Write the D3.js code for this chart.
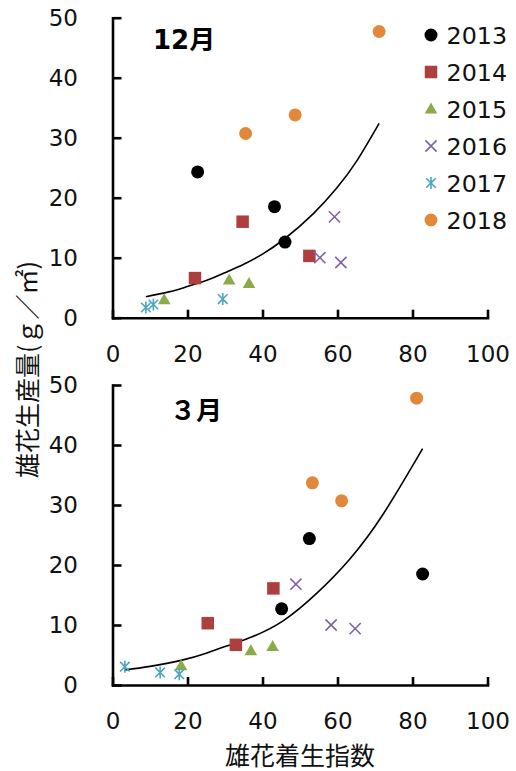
<!DOCTYPE html>
<html>
<head>
<meta charset="utf-8">
<script src="https://cdn.jsdelivr.net/npm/d3@7"></script>
<style>
  html, body { margin: 0; padding: 0; background: #fff; }
  svg { display: block; }
</style>
</head>
<body>
<svg id="chart" width="516" height="771"></svg>
<script>
// ---- data ----
const years = ["2013", "2014", "2015", "2016", "2017", "2018"];
const colors = ["#000000", "#AD403E", "#8DAA4B", "#7F63A1", "#4AA5C2", "#E2883B"];
const shapes = ["circle", "square", "triangle", "times", "asterisk", "circle"];

// 12月 panel: 雄花着生指数 (x) and 雄花生産量 (y)
const decIndex = [[22.7, 43.2, 46.0], [22.0, 34.7, 52.5], [13.8, 31.1, 36.4], [59.2, 55.3, 60.9], [8.9, 10.9, 29.4], [35.5, 48.7, 71.1]];
const decProd  = [[24.3, 18.5, 12.6], [6.6, 16.0, 10.3], [3.0, 6.3, 5.7], [16.8, 10.0, 9.2], [1.7, 2.2, 3.1], [30.7, 33.8, 47.7]];
// 3月 panel
const marIndex = [[52.5, 45.1, 82.7], [25.4, 32.9, 42.9], [18.3, 36.9, 42.7], [48.9, 58.3, 64.7], [3.3, 12.7, 17.8], [53.3, 61.1, 81.1]];
const marProd  = [[24.4, 12.7, 18.5], [10.3, 6.7, 16.1], [3.2, 5.7, 6.4], [16.8, 10.0, 9.4], [3.05, 2.1, 1.8], [33.7, 30.7, 47.8]];

// trend curves
const decTrendX = [8.9, 15, 20, 25, 30, 35, 40, 46, 53.5, 59.8, 65.1, 71.1];
const decTrendY = [3.5, 4.3, 5.2, 6.2, 7.5, 8.9, 10.6, 13.2, 17.3, 21.6, 26.1, 32.4];
const marTrendX = [3.3, 10, 18.3, 25, 30, 36.7, 45.5, 54.5, 63.3, 72.2, 82.7];
const marTrendY = [2.5, 3.1, 4.1, 5.3, 6.4, 7.9, 10.7, 15.3, 21.0, 28.5, 39.4];

const xTicks = [0, 20, 40, 60, 80, 100];
const yTicks = [0, 10, 20, 30, 40, 50];
const panelTitles = ["12月", "３月"];
const xTitle = "雄花着生指数";
const yTitle = "雄花生産量(ｇ／㎡)";

// ---- drawing ----
const svg = d3.select("#chart");
const numFont = "'DejaVu Sans', Verdana, sans-serif";
const cjkFont = "'Noto Sans CJK JP', 'DejaVu Sans', sans-serif";

const x = d3.scaleLinear().domain([0, 100]).range([112.5, 487.5]);
const panels = [
  { y: d3.scaleLinear().domain([0, 50]).range([317.7, 17.7]), xs: decIndex, ys: decProd, tx: decTrendX, ty: decTrendY, title: panelTitles[0], titleX: 153, titleY: 49 },
  { y: d3.scaleLinear().domain([0, 50]).range([685, 385]), xs: marIndex, ys: marProd, tx: marTrendX, ty: marTrendY, title: panelTitles[1], titleX: 170, titleY: 420 }
];

function markerPath(shape) {
  if (shape === "circle") return d3.symbol().type(d3.symbolCircle).size(Math.PI * 6.5 * 6.5)();
  if (shape === "square") return d3.symbol().type(d3.symbolSquare).size(12.5 * 12.5)();
  if (shape === "triangle") return "M0,-6.5L6.3,4.5L-6.3,4.5Z";
  if (shape === "times") return "M-5.6,-5.6L5.6,5.6M-5.6,5.6L5.6,-5.6";
  if (shape === "asterisk") return "M-4.8,-4.8L4.8,4.8M-4.8,4.8L4.8,-4.8M0,-6L0,6";
}
function drawMarker(g, shape, color) {
  const stroked = shape === "times" || shape === "asterisk";
  g.append("path")
    .attr("d", markerPath(shape))
    .attr("fill", stroked ? "none" : color)
    .attr("stroke", stroked ? color : "none")
    .attr("stroke-width", stroked ? 1.6 : 0);
}

panels.forEach(p => {
  const g = svg.append("g");
  // axes
  const xAxis = d3.axisBottom(x).tickValues(xTicks).tickSizeInner(-8).tickSizeOuter(0).tickPadding(28);
  const yAxis = d3.axisLeft(p.y).tickValues(yTicks).tickSizeInner(-9).tickSizeOuter(0).tickPadding(34.5);
  const gx = g.append("g").attr("transform", `translate(0,${p.y(0)})`).call(xAxis);
  const gy = g.append("g").attr("transform", `translate(${x(0)},0)`).call(yAxis);
  [gx, gy].forEach(a => {
    a.select(".domain").attr("stroke", "#000").attr("stroke-width", 2.6).attr("stroke-linecap", "square");
    a.selectAll(".tick line").attr("stroke", "#000").attr("stroke-width", 2.6);
    a.selectAll(".tick text").attr("font-family", numFont).attr("font-size", 23).attr("fill", "#111");
  });

  // trend curve
  const line = d3.line().x(d => x(d[0])).y(d => p.y(d[1])).curve(d3.curveNatural);
  g.append("path")
    .attr("d", line(d3.zip(p.tx, p.ty)))
    .attr("fill", "none").attr("stroke", "#000").attr("stroke-width", 1.6);

  // points
  years.forEach((yr, i) => {
    p.xs[i].forEach((xv, j) => {
      const m = g.append("g").attr("transform", `translate(${x(xv)},${p.y(p.ys[i][j])})`);
      drawMarker(m, shapes[i], colors[i]);
    });
  });

  // panel title
  g.append("text")
    .attr("x", p.titleX).attr("y", p.titleY)
    .attr("font-family", "'DejaVu Sans', 'Noto Sans CJK JP', sans-serif")
    .attr("font-weight", "bold").attr("font-size", 26)
    .text(p.title);
});

// legend
const legend = svg.append("g");
years.forEach((yr, i) => {
  const cy = 35 + i * 37;
  const m = legend.append("g").attr("transform", `translate(431,${cy})`);
  drawMarker(m, shapes[i], colors[i]);
  legend.append("text")
    .attr("x", 446.5).attr("y", cy + 8.6)
    .attr("font-family", numFont).attr("font-size", 23.8).attr("fill", "#111")
    .text(yr);
});

// axis titles
svg.append("text")
  .attr("x", 300).attr("y", 765)
  .attr("text-anchor", "middle")
  .attr("font-family", cjkFont).attr("font-size", 25).attr("fill", "#111")
  .text(xTitle);

svg.append("text")
  .attr("transform", "translate(37,478) rotate(-90)")
  .attr("text-anchor", "start")
  .attr("font-family", cjkFont).attr("font-size", 25).attr("fill", "#111")
  .text(yTitle);
</script>
</body>
</html>
